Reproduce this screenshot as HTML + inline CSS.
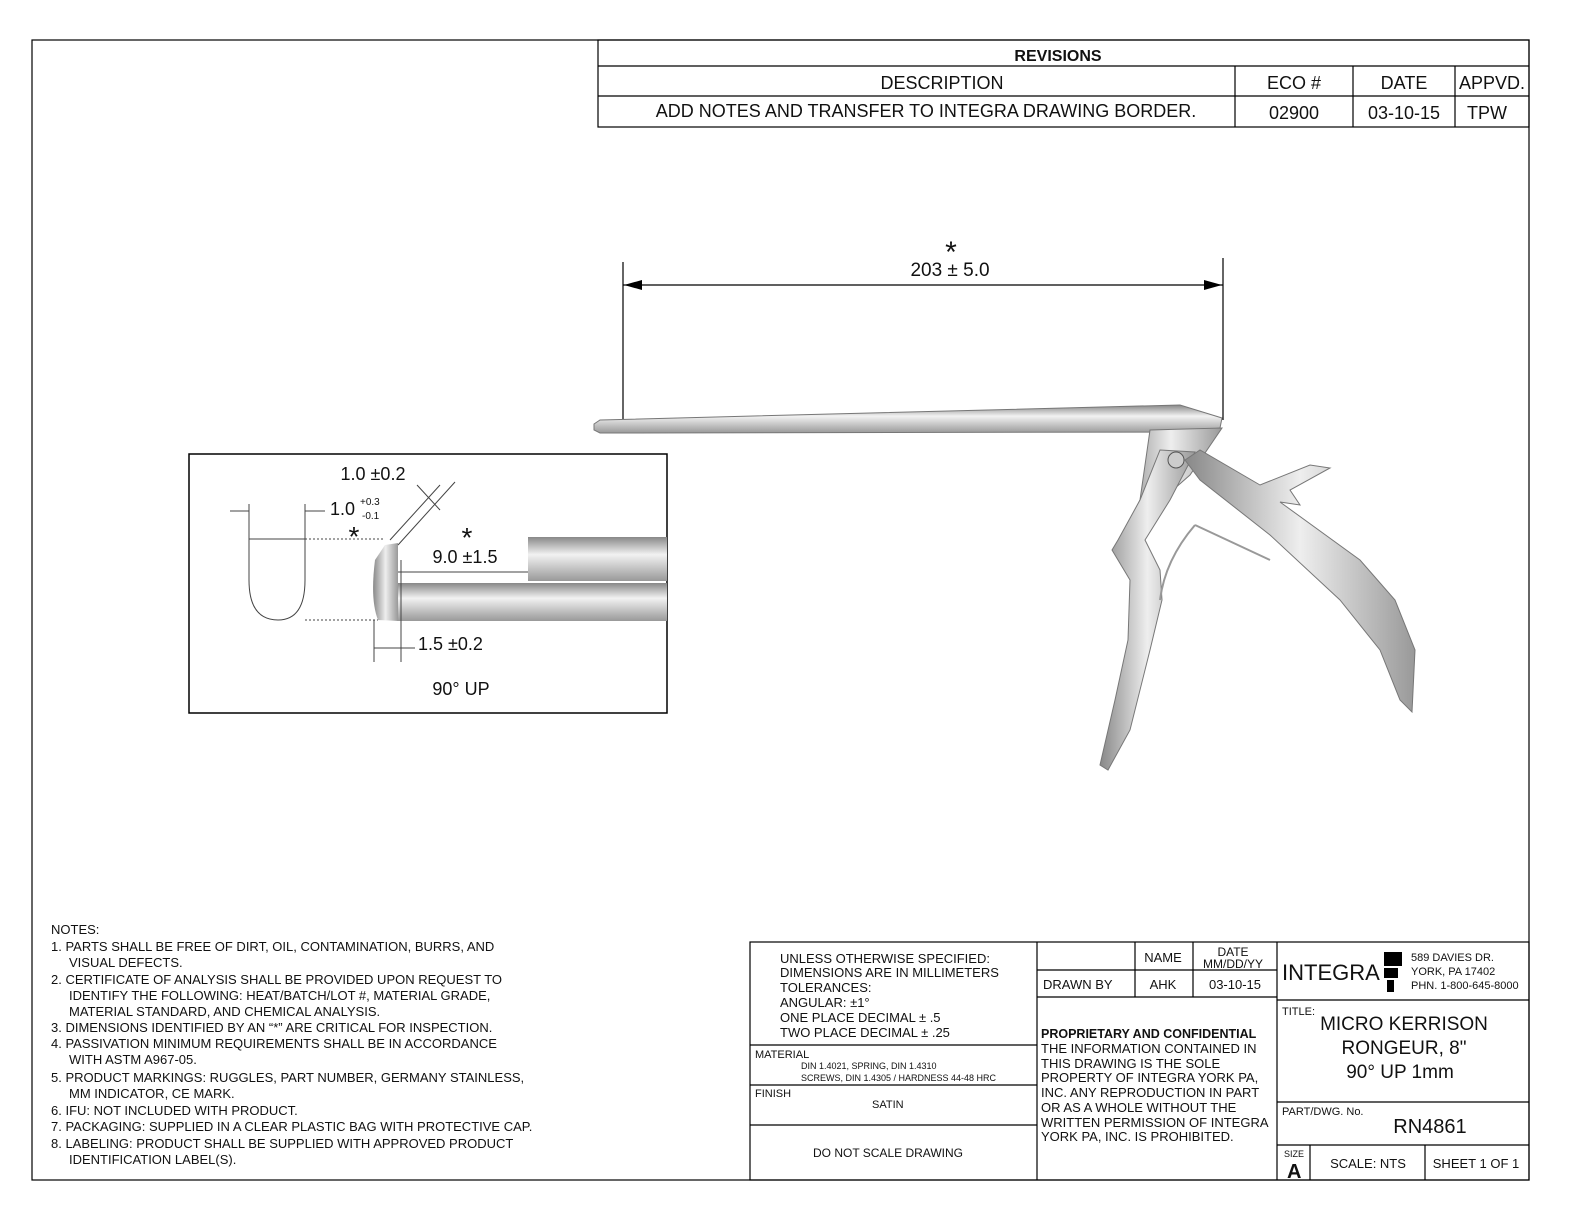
<!DOCTYPE html>
<html><head><meta charset="utf-8"><style>
html,body{margin:0;padding:0;background:#fff;overflow:hidden;width:1584px;height:1224px}
svg{display:block}
text{font-family:"Liberation Sans",sans-serif;fill:#111}
</style></head><body>
<svg width="1584" height="1224" viewBox="0 0 1584 1224" xmlns="http://www.w3.org/2000/svg">
<defs>
<linearGradient id="g1" x1="0" y1="0" x2="0" y2="1"><stop offset="0" stop-color="#888"/><stop offset="0.4" stop-color="#f2f2f2"/><stop offset="1" stop-color="#999"/></linearGradient>
<linearGradient id="g2" x1="0" y1="0" x2="1" y2="0"><stop offset="0" stop-color="#888"/><stop offset="0.5" stop-color="#eee"/><stop offset="1" stop-color="#999"/></linearGradient>
</defs>
<g fill="none" stroke="#000" stroke-width="1.2">
<rect x="32" y="40" width="1497" height="1140"/>
<rect x="598" y="40" width="931" height="87"/>
<line x1="598" y1="66" x2="1529" y2="66"/>
<line x1="598" y1="96" x2="1529" y2="96"/>
<line x1="1235" y1="66" x2="1235" y2="127"/>
<line x1="1353" y1="66" x2="1353" y2="127"/>
<line x1="1455" y1="66" x2="1455" y2="127"/>
<rect x="750" y="942" width="779" height="238"/>
<line x1="1037" y1="942" x2="1037" y2="1180"/>
<line x1="1277" y1="942" x2="1277" y2="1180"/>
<line x1="750" y1="1045" x2="1037" y2="1045"/>
<line x1="750" y1="1085" x2="1037" y2="1085"/>
<line x1="750" y1="1125" x2="1037" y2="1125"/>
<line x1="1037" y1="970" x2="1277" y2="970"/>
<line x1="1037" y1="997" x2="1277" y2="997"/>
<line x1="1135" y1="942" x2="1135" y2="997"/>
<line x1="1193" y1="942" x2="1193" y2="997"/>
<line x1="1277" y1="1000" x2="1529" y2="1000"/>
<line x1="1277" y1="1102" x2="1529" y2="1102"/>
<line x1="1277" y1="1145" x2="1529" y2="1145"/>
<line x1="1310" y1="1145" x2="1310" y2="1180"/>
<line x1="1425" y1="1145" x2="1425" y2="1180"/>
<rect x="189" y="454" width="478" height="259" stroke-width="1.5"/>
</g>
<text x="1058" y="61" font-size="16" font-weight="bold" text-anchor="middle">REVISIONS</text>
<text x="942" y="89" font-size="18" text-anchor="middle">DESCRIPTION</text>
<text x="1294" y="89" font-size="18" text-anchor="middle">ECO #</text>
<text x="1404" y="89" font-size="18" text-anchor="middle">DATE</text>
<text x="1492" y="89" font-size="18" text-anchor="middle">APPVD.</text>
<text x="926" y="117" font-size="18" text-anchor="middle">ADD NOTES AND TRANSFER TO INTEGRA DRAWING BORDER.</text>
<text x="1294" y="119" font-size="18" text-anchor="middle">02900</text>
<text x="1404" y="119" font-size="18" text-anchor="middle">03-10-15</text>
<text x="1487" y="119" font-size="18" text-anchor="middle">TPW</text>

<g stroke="#000" stroke-width="1.2">
<line x1="623" y1="262" x2="623" y2="420"/>
<line x1="1223" y1="258" x2="1223" y2="420"/>
<line x1="623" y1="285" x2="1223" y2="285"/>
</g>
<polygon points="624,285 642,280 642,290" fill="#000"/>
<polygon points="1222,285 1204,280 1204,290" fill="#000"/>
<text x="951" y="262" font-size="30" text-anchor="middle">*</text>
<text x="950" y="276" font-size="19" text-anchor="middle">203 ± 5.0</text>

<!-- instrument -->
<path d="M594,424 L600,420 L1180,405 L1222,418 L1220,428 L1190,432 L600,433 L594,430Z" fill="url(#g1)" stroke="#777" stroke-width="1"/>
<path d="M1150,430 L1222,428 L1190,475 L1150,510 L1130,545 L1120,545 L1140,500 Z" fill="url(#g2)" stroke="#777"/>
<path d="M1160,450 L1195,452 L1170,500 L1145,540 L1160,570 L1162,600 L1150,650 L1130,730 L1108,770 L1100,765 L1115,700 L1128,640 L1130,580 L1112,550 L1118,540 L1140,500Z" fill="url(#g2)" stroke="#777"/>
<path d="M1185,460 L1200,450 L1260,485 L1310,465 L1330,468 L1290,490 L1300,505 L1280,502 L1360,560 L1395,600 L1415,650 L1412,712 L1400,700 L1380,650 L1340,600 L1270,535 L1200,480Z" fill="url(#g2)" stroke="#777"/>
<circle cx="1176" cy="460" r="8" fill="#ccc" stroke="#555"/>
<path d="M1195,525 Q1165,560 1160,600" fill="none" stroke="#999" stroke-width="2"/>
<path d="M1195,525 L1270,560" fill="none" stroke="#999" stroke-width="2"/>

<rect x="528" y="537" width="139" height="44" fill="url(#g1)"/>
<rect x="397" y="583" width="270" height="38" fill="url(#g1)"/>
<path d="M385,545 L398,543 L398,621 L378,620 Q370,600 375,560 Z" fill="url(#g2)"/>
<g stroke="#444" stroke-width="1" fill="none">
<path d="M249,504 L249,580 Q249,620 278,620 Q305,620 305,580 L305,504"/>
<line x1="249" y1="539" x2="305" y2="539"/>
<line x1="305" y1="539" x2="385" y2="539" stroke-dasharray="2,2"/>
<line x1="305" y1="620" x2="378" y2="620" stroke-dasharray="2,2"/>
<line x1="230" y1="511" x2="249" y2="511"/>
<line x1="305" y1="511" x2="325" y2="511"/>
<line x1="390" y1="540" x2="440" y2="485"/>
<line x1="398" y1="545" x2="455" y2="482"/>
<line x1="417" y1="485" x2="440" y2="510"/>
<line x1="398" y1="572" x2="528" y2="572"/>
<line x1="374" y1="620" x2="374" y2="662"/>
<line x1="401" y1="560" x2="401" y2="662"/>
<line x1="374" y1="648" x2="415" y2="648"/>
</g>
<text x="373" y="480" font-size="18" text-anchor="middle">1.0 ±0.2</text>
<text x="330" y="515" font-size="18">1.0</text>
<text x="360" y="505" font-size="10">+0.3</text>
<text x="362" y="519" font-size="10">-0.1</text>
<text x="354" y="546" font-size="28" text-anchor="middle">*</text>
<text x="467" y="547" font-size="28" text-anchor="middle">*</text>
<text x="465" y="563" font-size="18" text-anchor="middle">9.0 ±1.5</text>
<text x="418" y="650" font-size="18">1.5 ±0.2</text>
<text x="461" y="695" font-size="18" text-anchor="middle">90° UP</text>

<g font-size="13">
<text x="51" y="934">NOTES:</text>
<text x="51" y="951">1.  PARTS SHALL BE FREE OF DIRT, OIL, CONTAMINATION, BURRS, AND</text>
<text x="69" y="967">VISUAL DEFECTS.</text>
<text x="51" y="984">2.  CERTIFICATE OF ANALYSIS SHALL BE PROVIDED UPON REQUEST TO</text>
<text x="69" y="1000">IDENTIFY THE FOLLOWING: HEAT/BATCH/LOT #, MATERIAL GRADE,</text>
<text x="69" y="1016">MATERIAL STANDARD, AND CHEMICAL ANALYSIS.</text>
<text x="51" y="1032">3.  DIMENSIONS IDENTIFIED BY AN “*” ARE CRITICAL FOR INSPECTION.</text>
<text x="51" y="1048">4.  PASSIVATION MINIMUM REQUIREMENTS SHALL BE IN ACCORDANCE</text>
<text x="69" y="1064">WITH ASTM A967-05.</text>
<text x="51" y="1082">5.  PRODUCT MARKINGS: RUGGLES, PART NUMBER, GERMANY STAINLESS,</text>
<text x="69" y="1098">MM INDICATOR, CE MARK.</text>
<text x="51" y="1115">6.  IFU: NOT INCLUDED WITH PRODUCT.</text>
<text x="51" y="1131">7.  PACKAGING: SUPPLIED IN A CLEAR PLASTIC BAG WITH PROTECTIVE CAP.</text>
<text x="51" y="1148">8.  LABELING: PRODUCT SHALL BE SUPPLIED WITH APPROVED PRODUCT</text>
<text x="69" y="1164">IDENTIFICATION LABEL(S).</text>
</g>

<g font-size="13">
<text x="780" y="963">UNLESS OTHERWISE SPECIFIED:</text>
<text x="780" y="977">DIMENSIONS ARE IN MILLIMETERS</text>
<text x="780" y="992">TOLERANCES:</text>
<text x="780" y="1007">ANGULAR: ±1°</text>
<text x="780" y="1022">ONE PLACE DECIMAL ± .5</text>
<text x="780" y="1037">TWO PLACE DECIMAL ± .25</text>
<text x="755" y="1058" font-size="11">MATERIAL</text>
<text x="801" y="1069" font-size="9">DIN 1.4021,  SPRING, DIN 1.4310</text>
<text x="801" y="1081" font-size="9">SCREWS, DIN 1.4305 / HARDNESS 44-48 HRC</text>
<text x="755" y="1097" font-size="11">FINISH</text>
<text x="872" y="1108" font-size="11">SATIN</text>
<text x="888" y="1157" font-size="12" text-anchor="middle">DO NOT SCALE DRAWING</text>
<text x="1163" y="962" text-anchor="middle">NAME</text>
<text x="1233" y="956" font-size="12" text-anchor="middle">DATE</text>
<text x="1233" y="968" font-size="12" text-anchor="middle">MM/DD/YY</text>
<text x="1043" y="989">DRAWN BY</text>
<text x="1163" y="989" text-anchor="middle">AHK</text>
<text x="1235" y="989" text-anchor="middle">03-10-15</text>
<text x="1041" y="1038" font-weight="bold" font-size="12.5">PROPRIETARY AND CONFIDENTIAL</text>
<text x="1041" y="1053">THE INFORMATION CONTAINED IN</text>
<text x="1041" y="1068">THIS DRAWING IS THE SOLE</text>
<text x="1041" y="1082">PROPERTY OF INTEGRA YORK PA,</text>
<text x="1041" y="1097">INC.  ANY REPRODUCTION IN PART</text>
<text x="1041" y="1112">OR AS A WHOLE WITHOUT THE</text>
<text x="1041" y="1127">WRITTEN PERMISSION OF INTEGRA</text>
<text x="1041" y="1141">YORK PA, INC. IS PROHIBITED.</text>
</g>
<text x="1282" y="980" font-size="22">INTEGRA</text>
<rect x="1384" y="952" width="18" height="14" fill="#000"/>
<rect x="1384" y="968" width="14" height="10" fill="#000"/>
<rect x="1387" y="980" width="7" height="12" fill="#000"/>
<g font-size="11">
<text x="1411" y="961">589 DAVIES DR.</text>
<text x="1411" y="975">YORK, PA 17402</text>
<text x="1411" y="989">PHN. 1-800-645-8000</text>
<text x="1282" y="1015">TITLE:</text>
<text x="1282" y="1115">PART/DWG. No.</text>
<text x="1284" y="1157" font-size="9">SIZE</text>
</g>
<text x="1404" y="1030" font-size="19" text-anchor="middle">MICRO KERRISON</text>
<text x="1404" y="1054" font-size="19" text-anchor="middle">RONGEUR, 8"</text>
<text x="1400" y="1078" font-size="19" text-anchor="middle">90° UP 1mm</text>
<text x="1430" y="1133" font-size="20" text-anchor="middle">RN4861</text>
<text x="1287" y="1178" font-size="20" font-weight="bold">A</text>
<text x="1368" y="1168" font-size="13" text-anchor="middle">SCALE: NTS</text>
<text x="1476" y="1168" font-size="13" text-anchor="middle">SHEET 1 OF 1</text>
</svg>
</body></html>
